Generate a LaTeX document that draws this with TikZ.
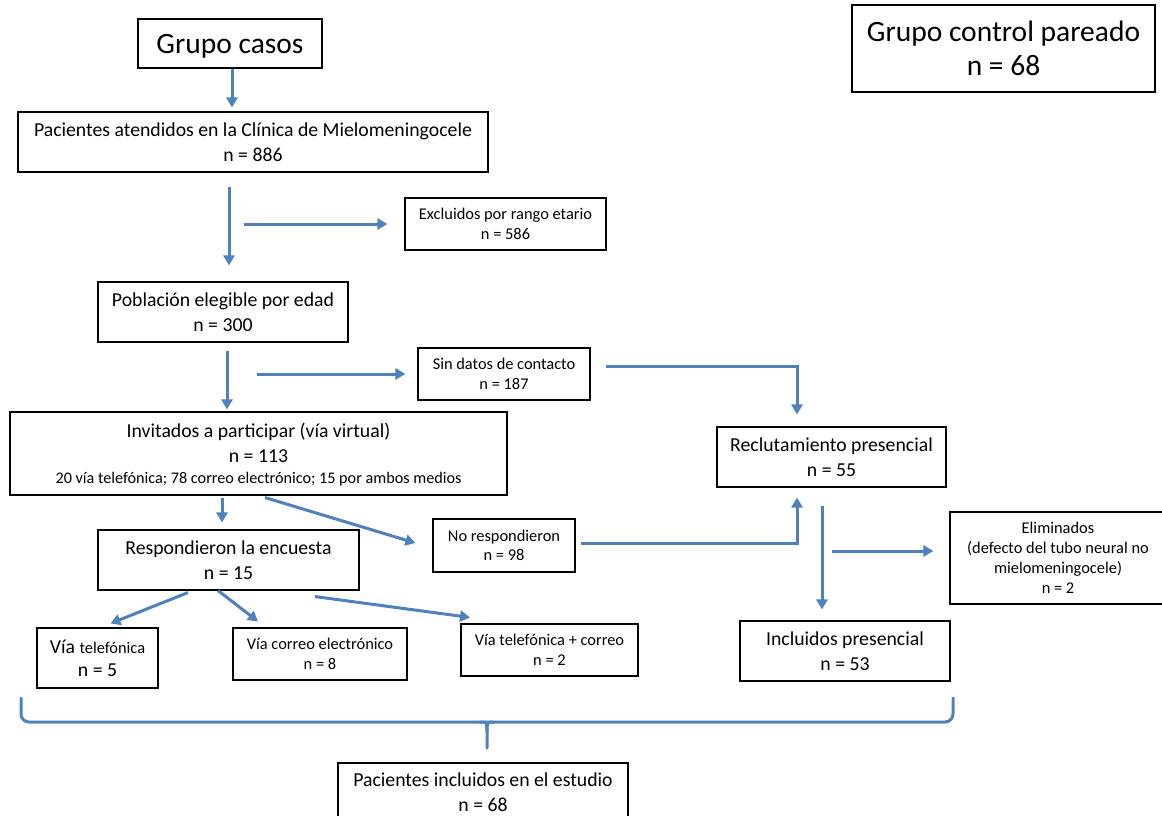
\documentclass[tikz,border=0pt]{standalone}
\usepackage{fontspec}
\setmainfont{Carlito}
\usetikzlibrary{arrows.meta,calc}
\definecolor{arrblue}{HTML}{4F81BD}
\newcommand\smallfs{\fontsize{16.4}{19.5}\selectfont}
\tikzset{
  box/.style={draw=black, line width=1.1pt, fill=white, align=center, inner sep=0pt, text depth=0pt},
  bigbox/.style={box, font=\fontsize{19.75}{24.5}\selectfont},
  smallbox/.style={box, font=\fontsize{16.4}{19.5}\selectfont},
  hugebox/.style={box, font=\fontsize{29.5}{34}\selectfont},
  arr/.style={draw=arrblue, line width=3pt, -{Triangle[length=10pt,width=11pt]}},
  brace/.style={draw=arrblue, line width=3pt, line cap=round}
}
\begin{document}
\begin{tikzpicture}[x=1pt,y=-1pt]
\useasboundingbox (0,0) rectangle (1162,816);
\fill[white] (0,0) rectangle (1162,816);
\begin{scope}
\clip (0,0) rectangle (1162,816);
\node[hugebox, minimum width=184, minimum height=49] (casos) at (230,43.5) {Grupo casos};
\node[hugebox, minimum width=303, minimum height=87] (ctrl) at (1003.5,48.5) {Grupo control pareado\\ n = 68};
\node[bigbox, minimum width=470, minimum height=60] (pac) at (253,142) {Pacientes atendidos en la Clínica de Mielomeningocele\\ n = 886};
\node[smallbox, minimum width=201, minimum height=52] (exc) at (505.5,224) {Excluidos por rango etario\\ n = 586};
\node[bigbox, minimum width=250, minimum height=60] (pob) at (223,312) {Población elegible por edad\\ n = 300};
\node[smallbox, minimum width=172, minimum height=52] (sin) at (504,374) {Sin datos de contacto\\ n = 187};
\node[bigbox, minimum width=497, minimum height=83] (inv) at (258.5,453.5) {Invitados a participar (vía virtual)\\ n = 113\\[-3pt] {\fontsize{16.2}{19.5}\selectfont 20 vía telefónica; 78 correo electrónico; 15 por ambos medios}};
\node[bigbox, minimum width=229, minimum height=60] (rec) at (831.5,457) {Reclutamiento presencial\\ n = 55};
\node[bigbox, minimum width=261, minimum height=60] (res) at (228.5,560) {Respondieron la encuesta\\ n = 15};
\node[smallbox, minimum width=142, minimum height=53] (nor) at (504,545.5) {No respondieron\\ n = 98};
\node[box, font=\fontsize{16.4}{20}\selectfont, minimum width=216, minimum height=92] (eli) at (1058,558) {Eliminados\\ (defecto del tubo neural no\\ mielomeningocele)\\ n = 2};
\node[bigbox, minimum width=121, minimum height=60] (vt) at (97.5,658) {Vía {\smallfs telefónica}\\[-1pt] n = 5};
\node[smallbox, minimum width=174, minimum height=52] (vc) at (320,654) {Vía correo electrónico\\ n = 8};
\node[smallbox, minimum width=177, minimum height=52] (vtc) at (549.5,650) {Vía telefónica + correo\\ n = 2};
\node[bigbox, minimum width=210, minimum height=60] (inc) at (845,651) {Incluidos presencial\\ n = 53};
\node[bigbox, minimum width=290, minimum height=58] (tot) at (483,792) {Pacientes incluidos en el estudio\\ n = 68};
\end{scope}

\draw[arr] ([xshift=2]casos.south) -- ([xshift=2,yshift=4]casos.south |- pac.north);
\draw[arr] ([xshift=-24,yshift=-14]pac.south) -- ([xshift=6,yshift=16]pob.north);
\draw[arr] ([xshift=-160]exc.west) -- ([xshift=-17]exc.west);
\draw[arr] ([xshift=4,yshift=-8]pob.south) -- ([xshift=4,yshift=2]pob.south |- inv.north);
\draw[arr] ([xshift=-160]sin.west) -- ([xshift=-12]sin.west);
\draw[arr] ([xshift=15,yshift=8]sin.east) -| ([xshift=-34.5,yshift=12]rec.north);
\draw[arr] ([xshift=-36.5,yshift=-2]inv.south) -- ([xshift=-6.5,yshift=7]res.north);
\draw[arr] ([xshift=6.5,yshift=-2]inv.south) -- ([xshift=-17,yshift=2.5]nor.west);
\draw[arr] ([xshift=5,yshift=2.5]nor.east) -| ([xshift=-34.5,yshift=-10]rec.south);
\draw[arr] ([xshift=-9.5,yshift=-18]rec.south) -- ([xshift=-23,yshift=11]inc.north);
\draw[arr] ([xshift=-117,yshift=7]eli.west) -- ([xshift=-16,yshift=7]eli.west);
\draw[arr] ([xshift=-40.5,yshift=-2]res.south) -- ([xshift=13,yshift=4]vt.north);
\draw[arr] ([xshift=-10.5]res.south) -- ([xshift=-62,yshift=6]vc.north);
\draw[arr] ([xshift=86.5,yshift=-6]res.south) -- ([xshift=-79.5,yshift=6]vtc.north);

% brace
\draw[brace, rounded corners=8] (21,698) -- (21,722) -- (953,722) -- (953,698);
\draw[brace] (480,722) .. controls (487,722) .. (487,732) -- (487,748);
\draw[brace] (494,722) .. controls (487,722) .. (487,732);
\end{tikzpicture}
\end{document}
